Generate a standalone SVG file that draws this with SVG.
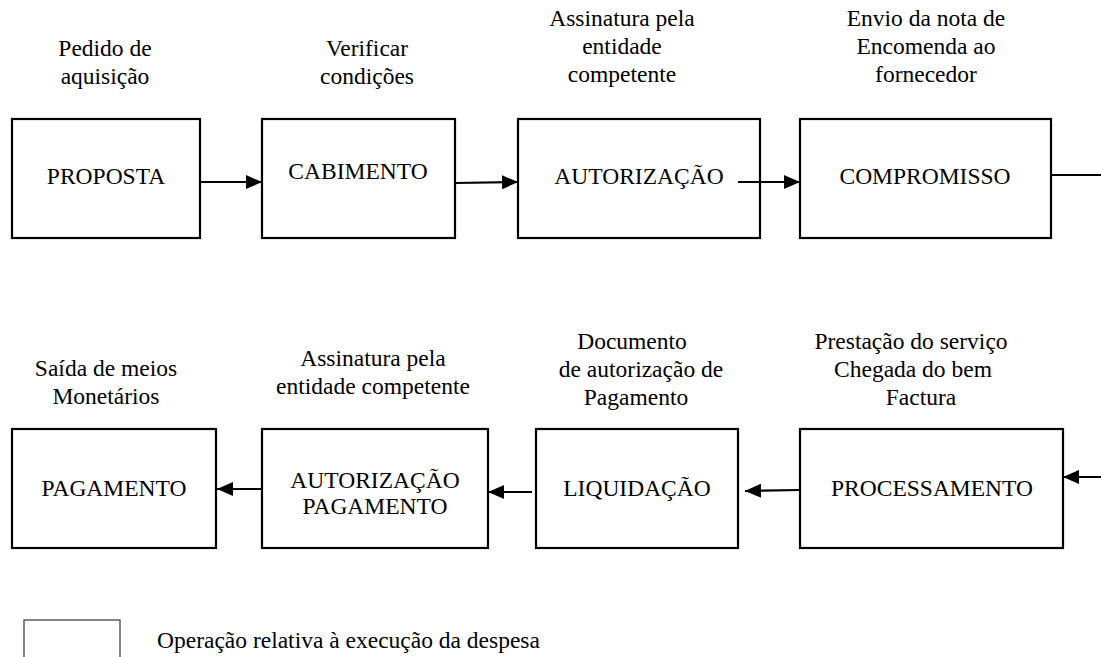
<svg xmlns="http://www.w3.org/2000/svg" width="1101" height="657" viewBox="0 0 1101 657">
<style>
text{font-family:"Liberation Serif","Times New Roman",serif;font-size:23.5px;fill:#000;text-anchor:middle}
.box{fill:#fff;stroke:#000;stroke-width:2.2}
.lbl{font-size:23.5px}
.con{stroke:#000;stroke-width:2.2;fill:none}
</style>
<defs>
<marker id="ah" viewBox="0 0 16 14" refX="16" refY="7" markerWidth="16" markerHeight="14" markerUnits="userSpaceOnUse" orient="auto">
<path d="M0,0 L16,7 L0,14 Z" fill="#000"/>
</marker>
</defs>
<g id="proposta"><rect class="box" x="12" y="119" width="188" height="119"/><text x="106" y="184">PROPOSTA</text></g>
<g id="cabimento"><rect class="box" x="262" y="119" width="193" height="119"/><text x="358" y="179">CABIMENTO</text></g>
<g id="autorizacao"><rect class="box" x="518" y="119" width="242" height="119"/><text x="639" y="184">AUTORIZAÇÃO</text></g>
<g id="compromisso"><rect class="box" x="800" y="119" width="251" height="119"/><text x="925" y="184">COMPROMISSO</text></g>
<g id="pagamento"><rect class="box" x="12" y="429" width="204" height="119"/><text x="114" y="496">PAGAMENTO</text></g>
<g id="autorizacao-pagamento"><rect class="box" x="262" y="429" width="226" height="119"/><text x="375" y="488">AUTORIZAÇÃO</text><text x="375" y="514">PAGAMENTO</text></g>
<g id="liquidacao"><rect class="box" x="536" y="429" width="202" height="119"/><text x="637" y="496">LIQUIDAÇÃO</text></g>
<g id="processamento"><rect class="box" x="800" y="429" width="263" height="119"/><text x="932" y="496">PROCESSAMENTO</text></g>
<g id="labels">
<text class="lbl" x="105" y="56">Pedido de</text><text class="lbl" x="105" y="84">aquisição</text>
<text class="lbl" x="367" y="56">Verificar</text><text class="lbl" x="367" y="84">condições</text>
<text class="lbl" x="622" y="26">Assinatura pela</text><text class="lbl" x="622" y="54">entidade</text><text class="lbl" x="622" y="82">competente</text>
<text class="lbl" x="926" y="26">Envio da nota de</text><text class="lbl" x="926" y="54">Encomenda ao</text><text class="lbl" x="926" y="82">fornecedor</text>
<text class="lbl" x="106" y="376">Saída de meios</text><text class="lbl" x="106" y="404">Monetários</text>
<text class="lbl" x="373" y="366">Assinatura pela</text><text class="lbl" x="373" y="394">entidade competente</text>
<text class="lbl" x="632" y="349">Documento</text><text class="lbl" x="641" y="377">de autorização de</text><text class="lbl" x="636" y="405">Pagamento</text>
<text class="lbl" x="911" y="349">Prestação do serviço</text><text class="lbl" x="913" y="377">Chegada do bem</text><text class="lbl" x="921" y="405">Factura</text>
</g>
<g id="connectors">
<line class="con" x1="200" y1="182" x2="262" y2="182" marker-end="url(#ah)"/>
<line class="con" x1="455" y1="183" x2="518" y2="182" marker-end="url(#ah)"/>
<line class="con" x1="738" y1="182" x2="800" y2="182" marker-end="url(#ah)"/>
<line class="con" x1="1051" y1="175" x2="1101" y2="175"/>
<line class="con" x1="1101" y1="477" x2="1063" y2="477" marker-end="url(#ah)"/>
<line class="con" x1="800" y1="490" x2="745" y2="491" marker-end="url(#ah)"/>
<line class="con" x1="532" y1="492" x2="488" y2="492" marker-end="url(#ah)"/>
<line class="con" x1="262" y1="489" x2="217" y2="489" marker-end="url(#ah)"/>
</g>
<g id="legend">
<rect x="24" y="620" width="96" height="60" fill="#fff" stroke="#444" stroke-width="1.3"/>
<text class="lbl" x="157" y="648" style="text-anchor:start">Operação relativa à execução da despesa</text>
</g>
</svg>
